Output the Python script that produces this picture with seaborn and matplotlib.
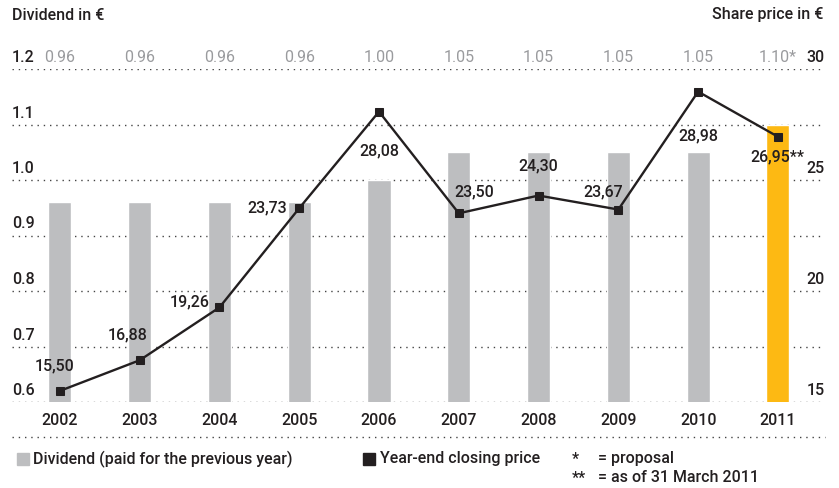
import numpy as np
import pandas as pd
import seaborn as sns
import matplotlib.pyplot as plt
from matplotlib.patches import Rectangle
from matplotlib.transforms import blended_transform_factory

sns.set_theme(style="white")
plt.rcParams['font.family'] = ['Roboto', 'DejaVu Sans']

years = ["2002", "2003", "2004", "2005", "2006", "2007", "2008", "2009", "2010", "2011"]
dividend = [0.96, 0.96, 0.96, 0.96, 1.00, 1.05, 1.05, 1.05, 1.05, 1.10]
dividend_labels = ["0.96", "0.96", "0.96", "0.96", "1.00", "1.05", "1.05", "1.05", "1.05", "1.10*"]
price = [15.50, 16.88, 19.26, 23.73, 28.08, 23.50, 24.30, 23.67, 28.98, 26.95]
price_labels = ["15,50", "16,88", "19,26", "23,73", "28,08", "23,50", "24,30", "23,67", "28,98", "26,95**"]
left_ticks = [0.6, 0.7, 0.8, 0.9, 1.0, 1.1, 1.2]
right_ticks = [15, 20, 25, 30]

GREY = "#BDBEC0"
GOLD = "#FDB913"
INK = "#231F20"
TXT = "#231F20"
LIGHT_TXT = "#9A9B9E"
FS = 11.5
FW = "medium"

# label offsets in pixels (dx, dy) relative to each price marker
offsets = [(-5, 25), (-12, 25), (-30, 6), (-32, 0), (0, -39),
           (15, 21), (0, 30), (-15, 18), (0, -44), (-1, -20)]

df = pd.DataFrame({"year": years, "dividend": dividend, "price": price})
bar_colors = [GREY] * (len(years) - 1) + [GOLD]

fig = plt.figure(figsize=(8.39, 4.88), dpi=100)
ax = fig.add_axes([12 / 839, 1 - 402 / 488, (825 - 12) / 839, (402 - 69) / 488])

sns.barplot(data=df, x="year", y="dividend", hue="year", palette=bar_colors,
            legend=False, width=0.29, saturation=1, ax=ax)
ax.set_xlim(-0.6, 9.59)
ax.set_ylim(0.6, 1.2)
ax.set_yticks(left_ticks)
ax.set_yticklabels([])
ax.tick_params(axis="y", length=0)
ax.tick_params(axis="x", length=0, pad=8, labelsize=FS, labelcolor=TXT)
for lab in ax.get_xticklabels():
    lab.set_fontweight(FW)
ax.set_xlabel("")
ax.set_ylabel("")
for s in ax.spines.values():
    s.set_visible(False)
ax.yaxis.grid(True, linestyle=(0, (1, 3.5)), color="#444444", linewidth=1)
ax.set_axisbelow(True)

# left axis labels sit just above their gridlines
blend_l = blended_transform_factory(ax.transAxes, ax.transData)
for t in left_ticks:
    ax.annotate(f"{t:.1f}", xy=(0, t), xycoords=blend_l, xytext=(0, 4),
                textcoords="offset pixels", ha="left", va="bottom",
                fontsize=FS, fontweight=FW, color=TXT)

# dividend values above the top gridline
for i, lab in enumerate(dividend_labels):
    ax.annotate(lab, xy=(i, 1.2), xytext=(0, 4), textcoords="offset pixels",
                ha="center", va="bottom", fontsize=FS, color=LIGHT_TXT,
                annotation_clip=False)

ax2 = ax.twinx()
sns.lineplot(x=np.arange(len(years)), y=price, ax=ax2, color=INK, linewidth=1.7,
             marker="s", markersize=6.3, markeredgecolor=INK, markerfacecolor=INK)
ax2.set_ylim(15, 30)
ax2.set_xlim(-0.6, 9.59)
ax2.set_yticks([])
for s in ax2.spines.values():
    s.set_visible(False)

blend_r = blended_transform_factory(ax2.transAxes, ax2.transData)
for t in right_ticks:
    ax2.annotate(f"{t}", xy=(1, t), xycoords=blend_r, xytext=(0, 4),
                 textcoords="offset pixels", ha="right", va="bottom",
                 fontsize=FS, fontweight=FW, color=TXT)

for i, (lab, (dx, dy)) in enumerate(zip(price_labels, offsets)):
    ax2.annotate(lab, xy=(i, price[i]), xytext=(dx, dy), textcoords="offset pixels",
                 ha="center", va="center", fontsize=FS, fontweight=FW, color=TXT)

# separator below the year labels
ax.plot([0, 1], [-0.105, -0.105], transform=ax.transAxes, clip_on=False,
        linestyle=(0, (1, 3.5)), color="#444444", linewidth=1)

# headers
fig.text(12 / 839, 1 - 15 / 488, "Dividend in €", ha="left", va="center",
         fontsize=FS, fontweight=FW, color=TXT)
fig.text(823 / 839, 1 - 15 / 488, "Share price in €", ha="right", va="center",
         fontsize=FS, fontweight=FW, color=TXT)

# legend
fig.patches.append(Rectangle((17 / 839, 1 - 465 / 488), 12 / 839, 12 / 488,
                             transform=fig.transFigure, color=GREY))
fig.text(33 / 839, 1 - 459 / 488, "Dividend (paid for the previous year)",
         ha="left", va="center", fontsize=FS, fontweight=FW, color=TXT)
fig.patches.append(Rectangle((363 / 839, 1 - 465 / 488), 12 / 839, 12 / 488,
                             transform=fig.transFigure, color=INK))
fig.text(380 / 839, 1 - 459 / 488, "Year-end closing price",
         ha="left", va="center", fontsize=FS, fontweight=FW, color=TXT)
fig.text(572 / 839, 1 - 459 / 488, "*", ha="left", va="center",
         fontsize=FS, fontweight=FW, color=TXT)
fig.text(598 / 839, 1 - 459 / 488, "= proposal", ha="left", va="center",
         fontsize=FS, fontweight=FW, color=TXT)
fig.text(572 / 839, 1 - 478 / 488, "**", ha="left", va="center",
         fontsize=FS, fontweight=FW, color=TXT)
fig.text(598 / 839, 1 - 478 / 488, "= as of 31 March 2011", ha="left", va="center",
         fontsize=FS, fontweight=FW, color=TXT)

fig.savefig("out.png", dpi=100)
